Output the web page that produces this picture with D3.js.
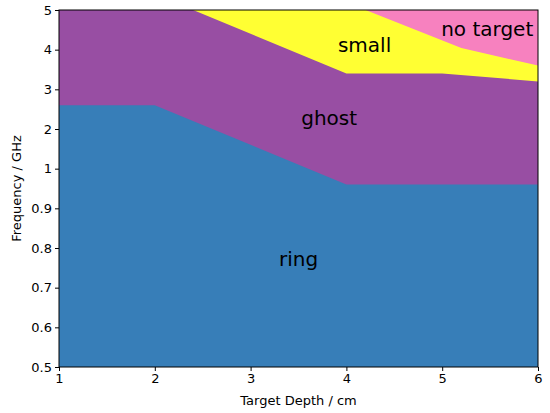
<!DOCTYPE html>
<html>
<head>
<meta charset="utf-8">
<script src="https://cdn.jsdelivr.net/npm/d3@7"></script>
<style>
  body { margin: 0; background: #fff; }
  svg text { font-family: "DejaVu Sans", sans-serif; fill: #000; }
</style>
</head>
<body>
<div id="chart"></div>
<script>
// data: boundary of each region (upper edge), depth in cm, frequency in GHz
const yTicks = [0.5, 0.6, 0.7, 0.8, 0.9, 1, 2, 3, 4, 5];
const xTicks = [1, 2, 3, 4, 5, 6];

const ringDepth = [1, 2, 4, 6];
const ringTop = [2.6, 2.6, 0.96, 0.96];

const ghostDepth = [1, 2.4, 4, 5, 6];
const ghostTop = [5, 5, 3.4, 3.4, 3.2];

const smallDepth = [1, 4.2, 5.2, 6];
const smallTop = [5, 5, 4.04, 3.6];

const noTargetDepth = [1, 6];
const noTargetTop = [5, 5];

const regionNames = ["no target", "small", "ghost", "ring"];
const regionColors = ["#f781bf", "#ffff33", "#984ea3", "#377eb8"];
const labelPos = [[5.47, 4.34], [4.19, 3.94], [3.82, 2.1], [3.5, 0.755]];

const width = 550, height = 413;
const margin = { top: 10, right: 12, bottom: 46, left: 59 };

const svg = d3.select("#chart").append("svg")
  .attr("width", width)
  .attr("height", height);

const x = d3.scaleLinear()
  .domain([1, 6])
  .range([margin.left, width - margin.right]);

// the axis has evenly spaced ticks, so it is a piecewise linear scale
const plotH = height - margin.top - margin.bottom;
const y = d3.scaleLinear()
  .domain(yTicks)
  .range(yTicks.map((d, i) => height - margin.bottom - i * plotH / (yTicks.length - 1)));

const bottom = y(0.5);
const area = d3.area()
  .x(d => x(d[0]))
  .y0(bottom)
  .y1(d => y(d[1]));

// draw from the top region down, each filling to the bottom
const regions = [
  [noTargetDepth, noTargetTop],
  [smallDepth, smallTop],
  [ghostDepth, ghostTop],
  [ringDepth, ringTop]
];

svg.append("g")
  .selectAll("path")
  .data(regions)
  .enter()
  .append("path")
  .attr("d", d => area(d3.zip(d[0], d[1])))
  .attr("fill", (d, i) => regionColors[i]);

svg.append("g")
  .selectAll("text")
  .data(regionNames)
  .enter()
  .append("text")
  .attr("x", (d, i) => x(labelPos[i][0]))
  .attr("y", (d, i) => y(labelPos[i][1]))
  .attr("text-anchor", "middle")
  .attr("font-size", 20)
  .text(d => d);

// frame
svg.append("rect")
  .attr("x", x(1))
  .attr("y", y(5))
  .attr("width", x(6) - x(1))
  .attr("height", y(0.5) - y(5))
  .attr("fill", "none")
  .attr("stroke", "#000")
  .attr("stroke-width", 1);

const xAxis = svg.append("g")
  .attr("transform", `translate(0,${bottom})`)
  .call(d3.axisBottom(x).tickValues(xTicks).tickSize(4).tickPadding(3).tickFormat(d3.format("d")));

const yAxis = svg.append("g")
  .attr("transform", `translate(${margin.left},0)`)
  .call(d3.axisLeft(y).tickValues(yTicks).tickSize(4).tickPadding(3).tickFormat(d => String(d)));

[xAxis, yAxis].forEach(a => {
  a.select(".domain").remove();
  a.selectAll("text").attr("font-size", 13).attr("font-family", "DejaVu Sans");
  a.selectAll("line").attr("stroke", "#000");
});

svg.append("text")
  .attr("x", (x(1) + x(6)) / 2)
  .attr("y", 405)
  .attr("text-anchor", "middle")
  .attr("font-size", 13)
  .text("Target Depth / cm");

svg.append("text")
  .attr("transform", `translate(21,${(y(5) + y(0.5)) / 2}) rotate(-90)`)
  .attr("text-anchor", "middle")
  .attr("font-size", 13)
  .text("Frequency / GHz");
</script>
</body>
</html>
